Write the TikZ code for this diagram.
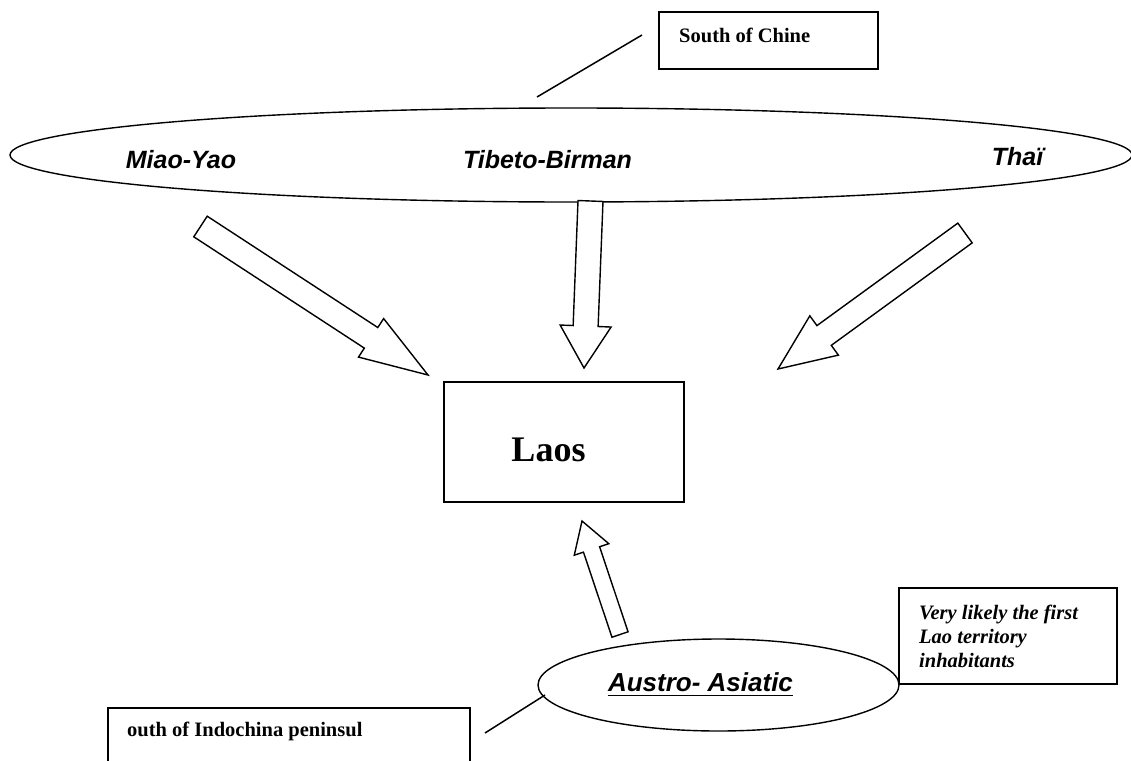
\documentclass[tikz,border=0pt]{standalone}
\usepackage{fontspec}
\setmainfont{Liberation Serif}
\newfontfamily\arialf{Liberation Sans}
\usetikzlibrary{shapes.geometric,calc}
\tikzset{
  boxed/.style={draw, line width=1.8pt, inner sep=0pt},
  oval/.style={draw, ellipse, line width=1.4pt, inner sep=0pt},
  blockarrow/.style={draw, fill=white, line width=1.4pt, line join=miter},
  sanslabel/.style={inner sep=0pt, font=\arialf\bfseries\itshape\fontsize{25}{30}\selectfont},
  serifbold/.style={inner sep=0pt, font=\bfseries\fontsize{20.5}{24}\selectfont},
  leader/.style={line width=1.5pt}
}
\newcommand{\blockarr}[5]{%
  \coordinate (hb) at ($(#2)!#5!(#1)$);
  \draw[blockarrow] ($(#1)!#3!90:(#2)$) -- ($(hb)!#3!90:(#2)$) -- ($(hb)!#4!90:(#2)$) -- (#2)
     -- ($(hb)!#4!-90:(#2)$) -- ($(hb)!#3!-90:(#2)$) -- ($(#1)!#3!-90:(#2)$) -- cycle;}
\begin{document}
\begin{tikzpicture}[x=1pt,y=-1pt]
\useasboundingbox (0,0) rectangle (1131,760);
\clip (0,0) rectangle (1131,760);
\fill[white] (0,0) rectangle (1131,760);

% top box
\node[boxed, anchor=north west, minimum width=219pt, minimum height=57pt] (china) at (658,11) {};
\node[serifbold, anchor=west] (chinatext) at (679,35) {South of Chine};
\coordinate (lt1) at (537,97);
\coordinate (lt2) at (642,35);
\draw[leader] (lt1) -- (lt2);

% big ellipse
\node[oval, minimum width=1122pt, minimum height=94pt] (groups) at (571,155) {};
\node[sanslabel] (miao) at (181,160) {Miao-Yao};
\node[sanslabel] (tibeto) at (547.5,160) {Tibeto-Birman};
\node[sanslabel] (thai) at (1017.5,157) {Thaï};

% Laos box
\node[boxed, anchor=north west, minimum width=240pt, minimum height=120pt] (laos) at (443,381) {};
\node[inner sep=0pt, font=\bfseries\fontsize{36}{40}\selectfont] (laostext) at (548.5,450) {Laos};

% block arrows
\coordinate (ta) at (200.5,226.5); \coordinate (pa) at (428,375);
\coordinate (tb) at (590.5,201);   \coordinate (pb) at (584,368);
\coordinate (tc) at (965,233);     \coordinate (pc) at (778,369);
\coordinate (td) at (620,634.5);   \coordinate (pd) at (582,521);
\blockarr{ta}{pa}{12.3pt}{23pt}{68pt}
\blockarr{tb}{pb}{12.5pt}{25.5pt}{42pt}
\blockarr{tc}{pc}{12.2pt}{24.3pt}{57pt}
\blockarr{td}{pd}{8.5pt}{18.2pt}{30pt}

% Austro-Asiatic ellipse
\node[oval, minimum width=361pt, minimum height=92pt] (austro) at (718.5,685) {};
\node[inner sep=0pt, font=\arialf\bfseries\itshape\fontsize{26}{30}\selectfont] (aus) at (700.5,682) {Austro- Asiatic};
\draw[line width=1.6pt] ([yshift=-4pt]aus.base west) -- ([yshift=-4pt]aus.base east);

% right note box
\node[boxed, anchor=north west, minimum width=218pt, minimum height=96pt] (note) at (898,587) {};
\node[inner sep=0pt, anchor=west, align=left, font=\bfseries\itshape\fontsize{20.5}{24}\selectfont] (notetext) at (919,636) {Very likely the first\\Lao territory\\inhabitants};

% bottom-left box
\node[boxed, anchor=north west, minimum width=362pt, minimum height=70pt] (indo) at (107,707) {};
\node[serifbold, anchor=west] (indotext) at (127,731) {outh of Indochina peninsul};
\coordinate (lb1) at (485,733);
\coordinate (lb2) at (545,695);
\draw[leader] (lb1) -- (lb2);
\end{tikzpicture}
\end{document}
